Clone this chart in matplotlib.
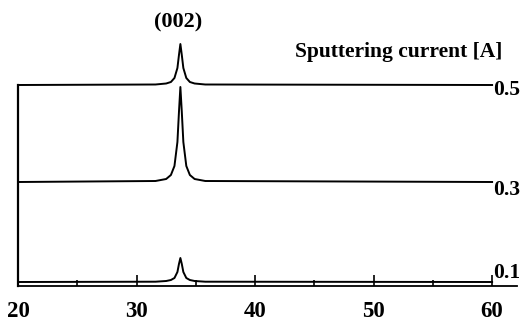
import matplotlib
matplotlib.use('Agg')
import matplotlib.pyplot as plt

# 2-theta sample points (deg)
two_theta = [20, 31.6, 32.5, 32.9, 33.2, 33.45, 33.58, 33.7, 33.82, 33.95, 34.2, 34.5, 34.9, 35.8, 60]

# intensities (arb. units) for each sputtering current
i_05 = [0, 0.5, 1.5, 3, 7, 17, 30, 41, 30, 17, 7, 3, 1.5, 0.5, 0]
i_03 = [0, 1, 3, 7, 16, 40, 70, 95, 70, 40, 16, 7, 3, 1, 0]
i_01 = [0, 0.3, 1, 2, 4, 10, 18, 24, 18, 10, 4, 2, 1, 0.3, 0]

currents = ['0.5', '0.3', '0.1']
offsets = [201, 104, 4]

serif = ['Liberation Serif', 'DejaVu Serif']

fig = plt.figure(figsize=(5.24, 3.27), dpi=100)
ax = fig.add_axes([18 / 524, 1 - 286 / 327, 499 / 524, 256 / 327])

for vals, off in zip([i_05, i_03, i_01], offsets):
    ax.plot(two_theta, [v + off for v in vals], color='black', lw=1.4)

ax.set_xlim(20, 62.1)
ax.set_ylim(0, 256)

ax.spines['top'].set_visible(False)
ax.spines['right'].set_visible(False)
ax.spines['left'].set_bounds(0, offsets[0])
ax.spines['left'].set_linewidth(1.6)
ax.spines['bottom'].set_linewidth(1.3)

ax.set_yticks([])
ax.set_xticks([20, 30, 40, 50, 60])
ax.set_xticks([25, 35, 45, 55], minor=True)
ax.tick_params(axis='x', which='major', direction='in', length=8, width=1.2, pad=11)
ax.tick_params(axis='x', which='minor', direction='in', length=4, width=1.2)
for lab in ax.get_xticklabels():
    lab.set_family(serif)
    lab.set_fontweight('bold')
    lab.set_fontsize(16.5)

ax.text(33.5, 264, '(002)', ha='center', va='center', fontsize=16,
        fontweight='bold', family=serif, clip_on=False)
ax.text(52.1, 234, 'Sputtering current [A]', ha='center', va='center',
        fontsize=15.5, fontweight='bold', family=serif)

label_y = [196, 96, 13]
for txt, y in zip(currents, label_y):
    ax.text(60.1, y, txt, ha='left', va='center', fontsize=15.5,
            fontweight='bold', family=serif, clip_on=False)

fig.savefig('out.png', dpi=100)
